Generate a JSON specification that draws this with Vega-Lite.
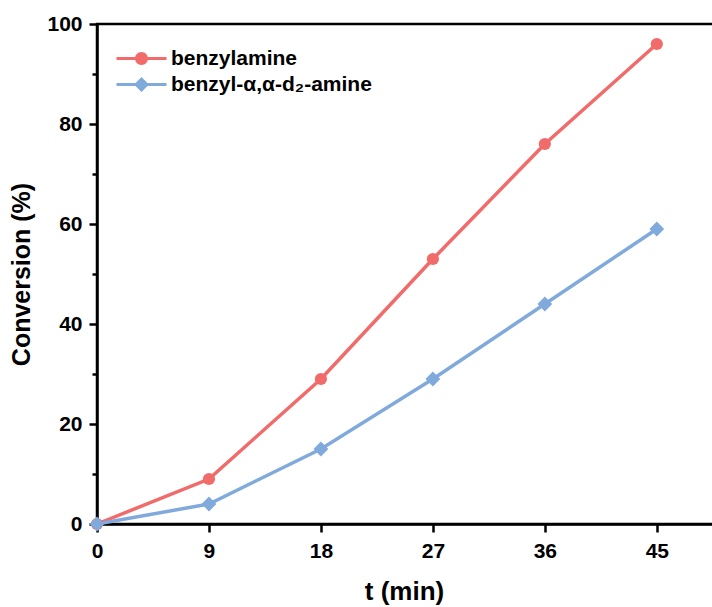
{
  "$schema": "https://vega.github.io/schema/vega-lite/v6.json",
  "autosize": "none",
  "width": 622,
  "height": 500,
  "padding": {"left": 97, "top": 24, "right": 0, "bottom": 83},
  "background": "white",
  "config": {
    "font": "Liberation Sans",
    "view": {"stroke": "black", "strokeWidth": 2.5},
    "axis": {"grid": false, "domainColor": "black", "domainWidth": 2.5, "tickColor": "black", "tickWidth": 2.5, "labelColor": "black", "titleColor": "black", "labelFont": "Liberation Sans", "titleFont": "Liberation Sans", "labelFontWeight": "bold", "titleFontWeight": "bold", "labelFontSize": 21, "titleFontSize": 25, "labelFlush": false}
  },
  "data": {"values": [
    {"t": 0, "conv": 0, "series": "benzylamine"},
    {"t": 9, "conv": 9, "series": "benzylamine"},
    {"t": 18, "conv": 29, "series": "benzylamine"},
    {"t": 27, "conv": 53, "series": "benzylamine"},
    {"t": 36, "conv": 76, "series": "benzylamine"},
    {"t": 45, "conv": 96, "series": "benzylamine"},
    {"t": 0, "conv": 0, "series": "benzyl-α,α-d₂-amine"},
    {"t": 9, "conv": 4, "series": "benzyl-α,α-d₂-amine"},
    {"t": 18, "conv": 15, "series": "benzyl-α,α-d₂-amine"},
    {"t": 27, "conv": 29, "series": "benzyl-α,α-d₂-amine"},
    {"t": 36, "conv": 44, "series": "benzyl-α,α-d₂-amine"},
    {"t": 45, "conv": 59, "series": "benzyl-α,α-d₂-amine"}
  ]},
  "resolve": {"axis": {"y": "independent"}},
  "layer": [
    {
      "mark": {"type": "line", "strokeWidth": 3.5},
      "encoding": {
        "x": {"field": "t", "type": "quantitative", "scale": {"domain": [0, 50], "nice": false},
              "axis": {"values": [0, 9, 18, 27, 36, 45], "title": "t (min)", "titleFontSize": 26, "tickSize": 8, "labelPadding": 8, "titlePadding": 17, "titleX": 307, "titleAlign": "center"}},
        "y": {"field": "conv", "type": "quantitative", "scale": {"domain": [0, 100], "nice": false},
              "axis": {"values": [0, 20, 40, 60, 80, 100], "title": "Conversion (%)", "tickSize": 8, "labelPadding": 7, "titlePadding": 12}},
        "color": {"field": "series", "type": "nominal", "sort": ["benzylamine", "benzyl-α,α-d₂-amine"],
                  "scale": {"domain": ["benzylamine", "benzyl-α,α-d₂-amine"], "range": ["#f26b6b", "#80aadc"]},
                  "legend": {"title": null, "orient": "none", "legendX": 34, "legendY": 24, "symbolSize": 100, "symbolStrokeWidth": 0, "labelFontSize": 21, "labelFontWeight": "bold", "labelColor": "black", "labelOffset": 19, "rowPadding": 4, "labelLimit": 400, "labelFont": "Liberation Sans",
                    "encode": {"symbols": {"update": {
                      "shape": {"signal": "datum.value === 'benzylamine' ? 'M-5,-0.32H5V0.32H-5ZM-1.3,0A1.3,1.3 0 1,1 1.3,0A1.3,1.3 0 1,1 -1.3,0Z' : 'M-5,-0.32H5V0.32H-5ZM0,-1.5L1.5,0L0,1.5L-1.5,0Z'"},
                      "size": {"value": 100},
                      "strokeWidth": {"value": 0},
                      "opacity": {"value": 1},
                      "fill": {"signal": "datum.value === 'benzylamine' ? '#f26b6b' : '#80aadc'"}
                    }}}}}
      }
    },
    {
      "mark": {"type": "point", "filled": true, "opacity": 1},
      "encoding": {
        "x": {"field": "t", "type": "quantitative"},
        "y": {"field": "conv", "type": "quantitative", "axis": {"orient": "left", "values": [10, 30, 50, 70, 90], "labels": false, "title": null, "tickSize": 5, "domain": false}},
        "color": {"field": "series", "type": "nominal"},
        "size": {"condition": {"test": "datum.series === 'benzylamine'", "value": 150}, "value": 220},
        "shape": {"condition": {"test": "datum.series === 'benzylamine'", "value": "circle"}, "value": "diamond"}
      }
    }
  ]
}
